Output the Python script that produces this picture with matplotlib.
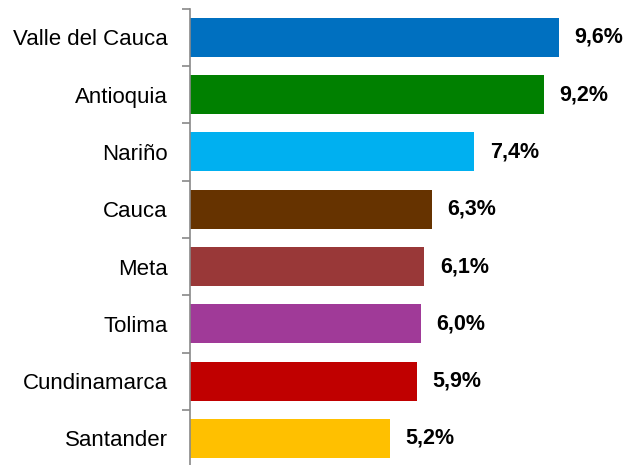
import matplotlib.pyplot as plt

regions = ["Valle del Cauca", "Antioquia", "Nariño", "Cauca", "Meta", "Tolima", "Cundinamarca", "Santander"]
shares = [9.6, 9.2, 7.4, 6.3, 6.1, 6.0, 5.9, 5.2]
labels = ["9,6%", "9,2%", "7,4%", "6,3%", "6,1%", "6,0%", "5,9%", "5,2%"]
colors = ["#0070C0", "#008000", "#00B0F0", "#663300", "#993838", "#A03A98", "#C00000", "#FFC000"]

plt.rcParams["font.family"] = ["Liberation Sans", "DejaVu Sans"]

fig = plt.figure(figsize=(6.28, 4.65), dpi=100)
# axis line at x~190, category bands from y~8.7 down past the bottom edge
ax = fig.add_axes([190 / 628, -2.1 / 465, 438 / 628, 458.4 / 465])

pos = list(range(len(regions)))
ax.barh(pos, shares, height=0.68, color=colors)
for p, v, lab in zip(pos, shares, labels):
    ax.text(v + 0.4, p, lab, va="center", ha="left", fontsize=15.5, fontweight="bold")

ax.set_xlim(0, 438 / 38.44)
ax.set_ylim(len(regions) - 0.5, -0.5)
ax.set_yticks(pos)
ax.set_yticklabels(regions, fontsize=16)
ax.set_yticks([p + 0.5 for p in range(-1, len(regions))], minor=True)
ax.tick_params(axis="y", which="major", length=0, pad=16)
ax.tick_params(axis="y", which="minor", length=5.5, width=1.2, color="#898989")
ax.set_xticks([])
for s in ["top", "right", "bottom"]:
    ax.spines[s].set_visible(False)
ax.spines["left"].set_color("#898989")
ax.spines["left"].set_linewidth(1.2)

fig.savefig("out.png", dpi=100)
